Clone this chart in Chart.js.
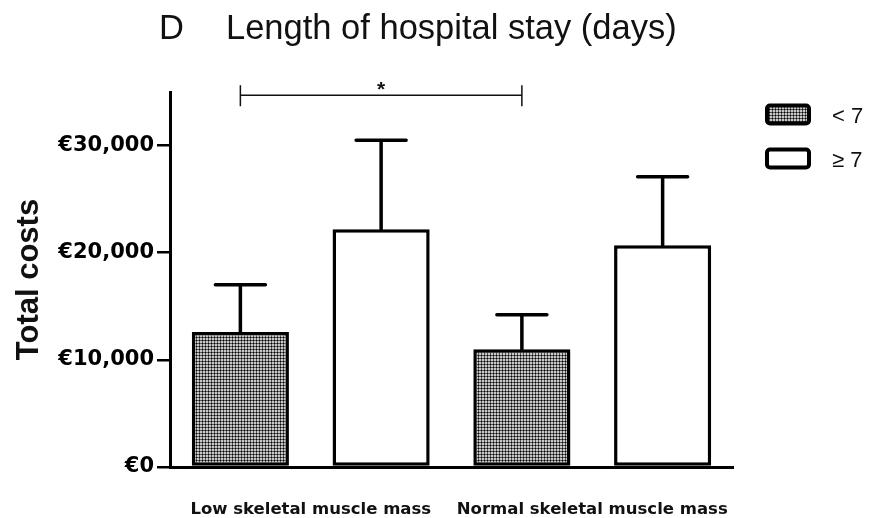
<!DOCTYPE html>
<html>
<head>
<meta charset="utf-8">
<script src="https://cdn.jsdelivr.net/npm/chart.js@4.4.1/dist/chart.umd.min.js"></script>
<style>
    html, body { margin: 0; padding: 0; background: #fff; }
    #chart { display: block; }
</style>
</head>
<body>
<canvas id="chart" width="872" height="518"></canvas>
<script>
// values
var categories = ['Low skeletal muscle mass', 'Normal skeletal muscle mass'];
var seriesLabels = ['< 7', '\u2265 7'];
var lt7Means = [12600, 11000];
var lt7Sd = [4400, 3200];
var ge7Means = [22200, 20700];
var ge7Sd = [8300, 6400];
var yTicks = [0, 10000, 20000, 30000];
var yMax = 35000;
var sigLevel = 34700;
var panelLetter = 'D';
var panelTitle = 'Length of hospital stay (days)';

// dotted grey fill used by GraphPad for the "< 7" bars
function makeDotPattern() {
    var tile = document.createElement('canvas');
    tile.width = 3;
    tile.height = 3;
    var t = tile.getContext('2d');
    var cells = [
        ['#c8c8c8', '#555', '#c8c8c8'],
        ['#555', '#000', '#555'],
        ['#c8c8c8', '#555', '#c8c8c8']
    ];
    cells.forEach(function (row, y) {
        row.forEach(function (c, x) {
            t.fillStyle = c;
            t.fillRect(x, y, 1, 1);
        });
    });
    return document.getElementById('chart').getContext('2d').createPattern(tile, 'repeat');
}

var dotFill = makeDotPattern();
var errors = [lt7Sd, ge7Sd];

var extrasPlugin = {
    id: 'extras',
    afterDatasetsDraw: function (chart) {
        var ctx = chart.ctx;
        var yScale = chart.scales.y;
        ctx.save();
        ctx.strokeStyle = '#000';
        ctx.lineWidth = 3.5;
        ctx.lineCap = 'round';
        chart.data.datasets.forEach(function (ds, i) {
            chart.getDatasetMeta(i).data.forEach(function (bar, j) {
                var top = yScale.getPixelForValue(ds.data[j] + errors[i][j]);
                ctx.beginPath();
                ctx.moveTo(bar.x, bar.y);
                ctx.lineTo(bar.x, top);
                ctx.moveTo(bar.x - 25, top);
                ctx.lineTo(bar.x + 25, top);
                ctx.stroke();
            });
        });
        ctx.restore();
    },
    afterDraw: function (chart) {
        var ctx = chart.ctx;
        var yScale = chart.scales.y;
        ctx.save();

        // panel title
        ctx.fillStyle = '#111';
        ctx.font = '34.5px "Liberation Sans", Arial, sans-serif';
        ctx.textBaseline = 'alphabetic';
        ctx.textAlign = 'left';
        ctx.fillText(panelLetter, 159, 39);
        ctx.fillText(panelTitle, 226, 39);

        // significance bracket between the two "< 7" bars
        var bars = chart.getDatasetMeta(0).data;
        var x1 = bars[0].x, x2 = bars[1].x;
        var sy = yScale.getPixelForValue(sigLevel);
        ctx.strokeStyle = '#111';
        ctx.lineWidth = 1.5;
        ctx.beginPath();
        ctx.moveTo(x1, sy);
        ctx.lineTo(x2, sy);
        ctx.moveTo(x1, sy - 10);
        ctx.lineTo(x1, sy + 11);
        ctx.moveTo(x2, sy - 10);
        ctx.lineTo(x2, sy + 11);
        ctx.stroke();
        ctx.font = 'bold 21px "Liberation Sans", Arial, sans-serif';
        ctx.textAlign = 'center';
        ctx.fillText('*', (x1 + x2) / 2, sy + 1);

        // legend
        ctx.textAlign = 'left';
        ctx.font = '22px "Liberation Sans", Arial, sans-serif';
        chart.data.datasets.forEach(function (ds, i) {
            var by = 104 + i * 44;
            ctx.fillStyle = ds.backgroundColor;
            ctx.strokeStyle = '#000';
            ctx.lineWidth = 4;
            ctx.beginPath();
            ctx.roundRect(767, by + 1.5, 42, 18, 3);
            ctx.fill();
            ctx.stroke();
            ctx.fillStyle = '#111';
            ctx.fillText(ds.label, 832, by + 19);
        });
        ctx.restore();
    }
};

new Chart(document.getElementById('chart'), {
    type: 'bar',
    data: {
        labels: categories,
        datasets: [{
            label: seriesLabels[0],
            data: lt7Means,
            backgroundColor: dotFill,
            borderColor: '#000',
            borderWidth: 3.5,
            borderSkipped: false
        }, {
            label: seriesLabels[1],
            data: ge7Means,
            backgroundColor: '#fff',
            borderColor: '#000',
            borderWidth: 3.5,
            borderSkipped: false
        }]
    },
    options: {
        responsive: false,
        animation: false,
        layout: { padding: { top: 92, right: 139, bottom: 0, left: 0 } },
        categoryPercentage: 1,
        barPercentage: 0.69,
        plugins: {
            legend: { display: false },
            tooltip: { enabled: false }
        },
        scales: {
            x: {
                afterFit: function (scale) { scale.height = 51; },
                grid: { display: true, drawOnChartArea: false, drawTicks: false },
                border: { color: '#000', width: 3 },
                ticks: {
                    padding: 33,
                    maxRotation: 0,
                    autoSkip: false,
                    color: '#111',
                    font: { family: 'DejaVu Sans', weight: 'bold', size: 16.5 }
                }
            },
            y: {
                min: 0,
                max: yMax,
                afterFit: function (scale) { scale.width = 170; },
                afterBuildTicks: function (scale) {
                    scale.ticks = yTicks.map(function (v) { return { value: v }; });
                },
                grid: { drawOnChartArea: false, tickLength: 13, color: '#000', lineWidth: 2.5 },
                border: { color: '#000', width: 3 },
                ticks: {
                    padding: 3,
                    color: '#000',
                    font: { family: 'DejaVu Sans', weight: 'bold', size: 21 },
                    callback: function (v) { return '\u20ac' + Number(v).toLocaleString('en-US'); }
                },
                title: {
                    display: true,
                    text: 'Total costs',
                    color: '#111',
                    padding: { top: 11, bottom: 0 },
                    font: { family: 'Liberation Sans', weight: 'bold', size: 31 }
                }
            }
        }
    },
    plugins: [extrasPlugin]
});
</script>
</body>
</html>
